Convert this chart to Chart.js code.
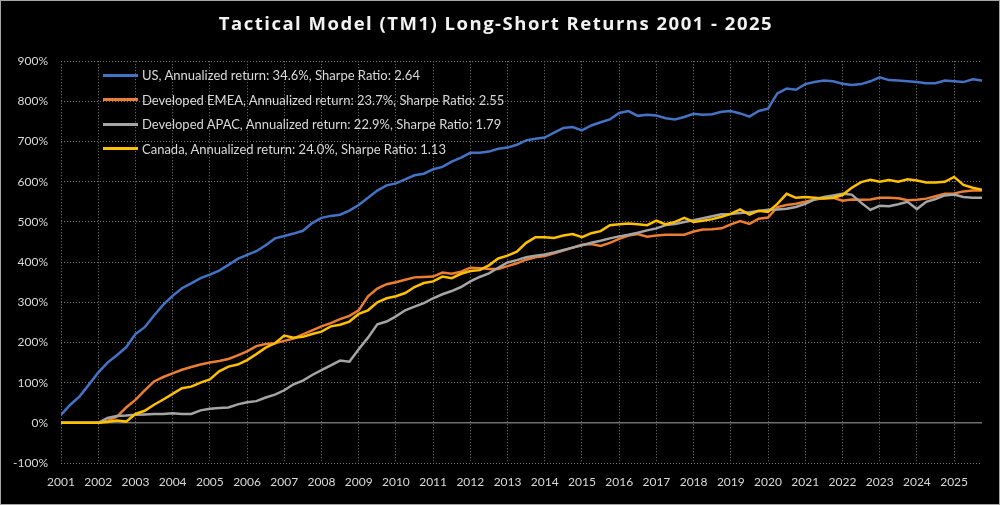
<!DOCTYPE html>
<html>
<head>
<meta charset="utf-8">
<script src="https://cdn.jsdelivr.net/npm/chart.js@4.4.1/dist/chart.umd.min.js"></script>
<style>
  html, body { margin: 0; padding: 0; background: #000; }
  #wrap { position: relative; width: 1000px; height: 505px; background: #000; overflow: hidden; }
  #frame { position: absolute; left: 0; top: 0; right: 0; bottom: 0; border: 1px solid #a6a6a6; pointer-events: none; }
  #legend { position: absolute; left: 103px; top: 63px; font-family: Lato, sans-serif; font-size: 13px; color: #d9d9d9; }
  .legend-row { display: flex; align-items: center; height: 24.5px; white-space: nowrap; }
  .legend-line { width: 35px; height: 3px; margin-right: 4px; }
</style>
</head>
<body>
<div id="wrap">
  <canvas id="chart" width="1000" height="505"></canvas>
  <div id="legend"></div>
  <div id="frame"></div>
</div>
<script>
// quarterly observations, first one at start of 2001
const startYear = 2001;
const stepYears = 0.25;

const seriesNames = [
  'US, Annualized return: 34.6%, Sharpe Ratio: 2.64',
  'Developed EMEA, Annualized return: 23.7%, Sharpe Ratio: 2.55',
  'Developed APAC, Annualized return: 22.9%, Sharpe Ratio: 1.79',
  'Canada, Annualized return: 24.0%, Sharpe Ratio: 1.13'
];
const seriesColors = ['#4472C4', '#ED7D31', '#A5A5A5', '#FFC000'];

const usValues = [
  20, 45, 66, 95, 125, 150, 168, 188, 221, 238, 267, 294, 316, 335, 347, 360,
  369, 379, 393, 408, 418, 427, 442, 459, 465, 471, 478, 497, 510, 515, 518, 528,
  542, 560, 578, 591, 596, 606, 616, 620, 631, 637, 650, 660, 672, 672, 675, 682,
  685, 692, 703, 707, 710, 722, 734, 736, 728, 740, 748, 755, 771, 776, 764, 767,
  765, 758, 755, 761, 769, 767, 768, 774, 776, 770, 762, 776, 782, 820, 832, 829,
  843, 848, 852, 850, 844, 841, 843, 850, 860, 853, 852, 850, 848, 845, 845, 852,
  850, 848, 855, 852
];
const emeaValues = [
  0, 0, 0, 0, 0, 5, 15, 38, 57, 81, 103, 114, 123, 132, 139, 145,
  150, 154, 159, 168, 178, 191, 196, 198, 204, 210, 220, 230, 240, 248, 258, 266,
  280, 315, 334, 345, 350, 356, 362, 363, 364, 374, 371, 376, 386, 385, 383, 383,
  390, 397, 406, 412, 415, 422, 429, 436, 443, 445, 440, 448, 458, 466, 470, 463,
  466, 468, 468, 468, 476, 481, 482, 484, 494, 502, 495, 508, 511, 537, 542, 545,
  550, 556, 559, 560, 553, 556, 555, 556, 560, 560, 559, 554, 555, 558, 564, 570,
  571, 576, 578, 578
];
const apacValues = [
  0, 0, 0, 0, 0, 12, 17, 18, 20, 21, 22, 22, 24, 22, 22, 31,
  35, 37, 38, 46, 51, 54, 63, 70, 81, 96, 105, 119, 131, 143, 155, 152,
  183, 212, 245, 252, 265, 280, 289, 298, 310, 320, 328, 338, 352, 363, 372, 386,
  399, 405, 412, 416, 419, 424, 430, 436, 442, 448, 453, 459, 464, 468, 473, 479,
  484, 492, 495, 500, 504, 509, 514, 519, 520, 522, 524, 527, 530, 531, 533, 537,
  545, 556, 562, 566, 570, 568, 548, 530, 540, 539, 544, 550, 532, 550, 557, 566,
  568, 562, 560, 560
];
const canadaValues = [
  0, 0, 0, 0, 0, 2, 6, 3, 22, 30, 45, 58, 72, 86, 90, 100,
  108, 128, 140, 145, 156, 171, 187, 198, 217, 212, 214, 221, 227, 240, 244, 252,
  271, 280, 300, 310, 315, 323, 338, 348, 352, 364, 360, 371, 378, 380, 392, 409,
  416, 426, 448, 462, 462, 460, 466, 470, 462, 472, 477, 492, 494, 496, 494, 492,
  503, 494, 500, 510, 500, 503, 507, 513, 520, 531, 518, 528, 525, 545, 570, 560,
  562, 560, 558, 560, 567, 585, 599, 605, 600, 604, 600, 606, 603, 598, 598, 600,
  612, 592, 585, 580
];
const seriesValues = [usValues, emeaValues, apacValues, canadaValues];

const xMin = 2001;
const xMax = 2025.75;
const yMin = -100;
const yMax = 900;

function toPoints(values) {
  return values.map((v, i) => ({ x: startYear + i * stepYears, y: v }));
}

const gridColor = '#7a7a7a';
const labelColor = '#d9d9d9';

// solid line at 0%, drawn under the series
const zeroLine = {
  id: 'zeroLine',
  beforeDatasetsDraw(chart) {
    const { ctx, chartArea, scales } = chart;
    const y = scales.y.getPixelForValue(0);
    ctx.save();
    ctx.strokeStyle = '#6e6e6e';
    ctx.lineWidth = 1.5;
    ctx.beginPath();
    ctx.moveTo(chartArea.left, y);
    ctx.lineTo(chartArea.right, y);
    ctx.stroke();
    ctx.restore();
  }
};

// the title in the original is letter-spaced
const spacedTitle = {
  id: 'spacedTitle',
  afterLayout(chart) {
    const tb = chart.titleBlock;
    if (!tb || tb._spaced) return;
    const draw = tb.draw.bind(tb);
    tb.draw = area => {
      chart.ctx.save();
      chart.ctx.letterSpacing = '1.5px';
      draw(area);
      chart.ctx.restore();
    };
    tb._spaced = true;
  }
};

Chart.defaults.font.family = 'Lato, sans-serif';
Chart.defaults.color = labelColor;

const ctx = document.getElementById('chart').getContext('2d');
const chart = new Chart(ctx, {
  type: 'line',
  data: {
    datasets: seriesValues.map((values, i) => ({
      label: seriesNames[i],
      data: toPoints(values),
      borderColor: seriesColors[i],
      backgroundColor: seriesColors[i],
      borderWidth: 2.5,
      pointRadius: 0,
      tension: 0,
      fill: false,
      order: seriesValues.length - 1 - i
    }))
  },
  options: {
    responsive: false,
    animation: false,
    layout: { padding: { left: 10, right: 18, top: 0, bottom: 0 } },
    plugins: {
      legend: { display: false },
      tooltip: { enabled: false },
      title: {
        display: true,
        text: 'Tactical Model (TM1) Long-Short Returns 2001 - 2025',
        color: '#f2f2f2',
        font: { family: '"Open Sans", sans-serif', size: 18.5, weight: 'bold' },
        padding: { top: 14, bottom: 25 }
      }
    },
    scales: {
      x: {
        type: 'linear',
        min: xMin,
        max: xMax,
        afterBuildTicks: axis => { axis.ticks = axis.ticks.filter(t => Number.isInteger(t.value)); },
        afterFit: axis => { axis.height = 42; },
        ticks: {
          stepSize: 1,
          includeBounds: false,
          padding: 12,
          maxRotation: 0,
          autoSkip: false,
          font: { size: 12 },
          callback: v => String(v)
        },
        grid: { color: gridColor, lineWidth: 1, drawTicks: false },
        border: { display: false, dash: [1, 2] }
      },
      y: {
        min: yMin,
        max: yMax,
        afterFit: axis => { axis.width = 51; },
        ticks: {
          stepSize: 100,
          padding: 13,
          font: { size: 12 },
          callback: v => v + '%'
        },
        grid: {
          color: gridColor,
          lineWidth: c => (c.tick && c.tick.value === 0 ? 0 : 1),
          drawTicks: false
        },
        border: { display: false, dash: [1, 2] }
      }
    }
  },
  plugins: [zeroLine, spacedTitle]
});

// legend sits inside the plot, top left
const legendContainer = document.getElementById('legend');
seriesNames.forEach((name, i) => {
  const row = document.createElement('div');
  row.className = 'legend-row';
  const line = document.createElement('div');
  line.className = 'legend-line';
  line.style.backgroundColor = seriesColors[i];
  const label = document.createElement('span');
  label.textContent = name;
  row.appendChild(line);
  row.appendChild(label);
  legendContainer.appendChild(row);
});
</script>
</body>
</html>
